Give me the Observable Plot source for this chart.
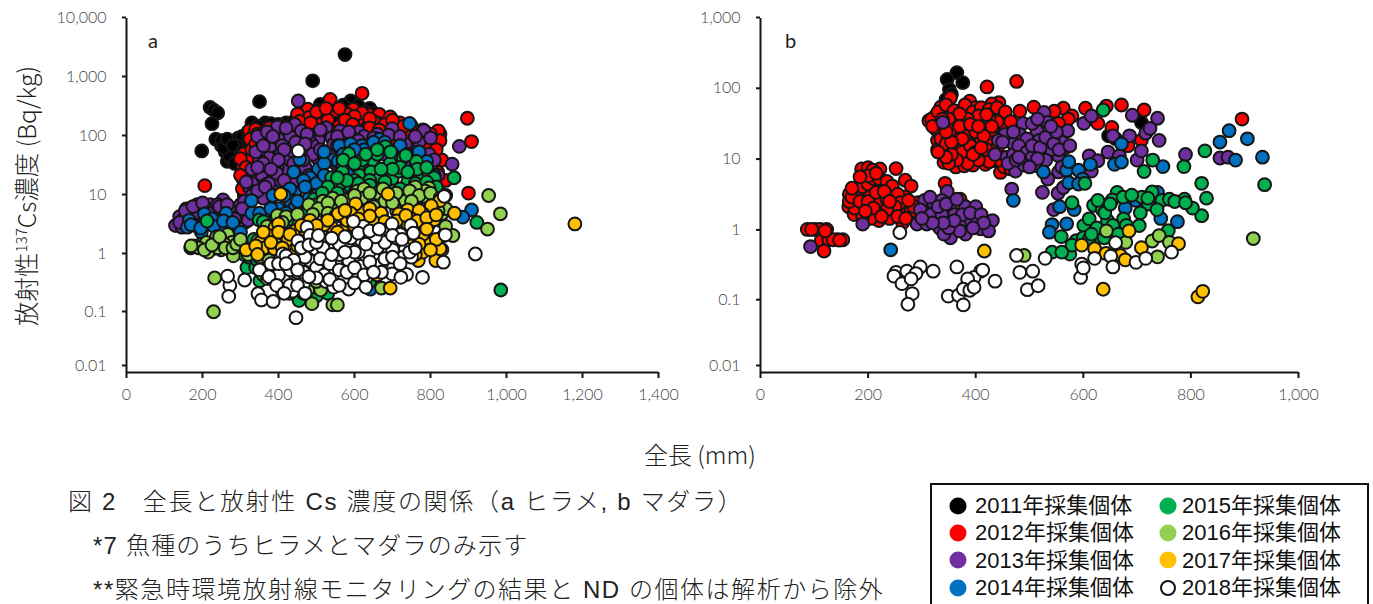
<!DOCTYPE html>
<html><head><meta charset="utf-8">
<script src="https://cdn.jsdelivr.net/npm/d3@7"></script>
<script src="https://cdn.jsdelivr.net/npm/@observablehq/plot@0.6"></script>
<style>
html,body{margin:0;padding:0;background:#fff;overflow:hidden}
body{width:1373px;height:604px;position:relative;font-family:"Noto Sans CJK JP","Noto Sans",sans-serif;color:#222;font-weight:300}
.abs{position:absolute;white-space:nowrap}
.cap{font-family:"Liberation Sans","Noto Sans CJK JP",sans-serif;font-size:24px;line-height:28px;letter-spacing:1.6px}
#a,#b{position:absolute;top:0}
#a{left:0}#b{left:690px}
#a svg,#b svg{overflow:visible;display:block}
sup{font-size:.62em;line-height:0}
</style></head><body>
<div id="a"></div><div id="b"></div>
<div class="abs" style="left:148px;top:28px;font:20px 'Lato'">a</div>
<div class="abs" style="left:785px;top:28px;font:20px 'Lato'">b</div>
<div class="abs" id="yt" style="left:26px;top:196px;font-size:24.5px;line-height:24px;transform:translate(-50%,-50%) rotate(-90deg)">放射性<sup>137</sup>Cs濃度 (Bq/kg)</div>
<div class="abs" style="left:644px;top:437px;font-size:24px;line-height:34px">全長 (mm)</div>
<div class="abs cap" style="left:68px;top:488px;letter-spacing:1.7px">図 2　全長と放射性 Cs 濃度の関係（a ヒラメ, b マダラ）</div>
<div class="abs cap" style="left:93px;top:532px;letter-spacing:1.2px">*7 魚種のうちヒラメとマダラのみ示す</div>
<div class="abs cap" style="left:93px;top:576px;letter-spacing:1.55px">**緊急時環境放射線モニタリングの結果と ND の個体は解析から除外</div>
<div id="legend" class="abs" style="left:930px;top:483px;width:439px;height:131px;border:2px solid #111;box-sizing:border-box"></div>
<script>
const years = ["2011","2012","2013","2014","2015","2016","2017","2018"];
const colors = ["#000000","#ff0000","#7030a0","#0070c0","#00b050","#92d050","#ffc000","#ffffff"];
const xTicksA = [0,200,400,600,800,1000,1200,1400];
const xTicksB = [0,200,400,600,800,1000];
const yTicksA = [0.01,0.1,1,10,100,1000,10000];
const yTicksB = [0.01,0.1,1,10,100,1000];

// panel a: [total length mm, Bq/kg]
const a2011 = [[575,2450],[490,880],[350,390],[220,310],[230,280],[240,250],[225,165],[198,57],[235,90],[250,70],[260,55],[265,38],[275,60],[285,85],[295,95],[305,100],[250,85],[270,75],[280,45],[290,50],[300,60],[310,70],[330,170],[365,170],[400,160],[430,150],[510,350],[590,400],[640,300],[480,260],[470,230],[520,200],[560,190],[600,170],[650,250],[680,180],[450,130],[420,170],[620,150],[540,270],[460,170],[550,300],[275,40],[290,70],[270,48],[320,90],[300,40],[255,65],[265,90],[280,70],[295,40],[285,35],[305,55],[320,120],[345,150],[380,165],[410,150],[440,180],[500,280],[530,320],[570,340],[610,330],[630,260],[660,200],[700,150]];
const a2012 = [[620,540],[536,426],[477,290],[505,233],[551,272],[572,254],[597,290],[637,238],[665,238],[694,215],[665,166],[897,204],[908,82],[825,110],[820,125],[825,85],[776,87],[745,132],[819,25],[900,11],[206,14.7],[157,5.9],[323,126],[340,132],[363,117],[365,87],[325,90],[351,57],[309,51],[306,32],[323,23],[308,18],[386,69],[317,12],[470,150],[510,160],[580,240],[610,200],[530,190],[600,130],[630,120],[760,120],[720,125],[680,115],[795,80],[760,70],[430,110],[400,100],[370,70],[340,40],[380,45],[350,30],[320,40],[650,180],[700,130],[620,250],[560,150],[480,210],[450,240],[330,16],[310,10],[790,30],[800,50],[830,40],[490,120],[540,120],[840,18],[700,90],[345,110],[375,140],[400,130],[440,140],[500,260],[525,300],[560,300],[600,220],[640,200],[680,160],[720,170],[750,150],[780,130],[800,110],[740,100],[790,60],[815,60],[805,35],[330,60],[300,42],[315,30],[340,75],[360,110],[375,85],[395,120],[415,130],[455,180],[485,170],[515,130],[575,190],[595,160],[640,140],[665,130],[700,190],[730,150],[320,14],[300,22],[305,13],[330,9.5],[320,7]];
const a2013 = [[452,400],[876,68],[857,34],[796,50],[783,126],[747,67],[734,74],[699,136],[611,120],[562,125],[525,141],[540,96],[443,160],[460,125],[397,146],[505,87],[420,85],[254,8.4],[140,4.4],[129,3.1],[186,7],[220,7],[169,4.9],[289,5.9],[317,5.4],[311,3.5],[323,13.8],[272,4.3],[237,4.9],[203,6.3],[294,2.9],[146,2.9],[374,44],[408,54],[420,28],[397,30],[363,28],[340,22],[357,20],[386,20],[403,15.6],[369,15.6],[340,14.7],[351,11],[386,12],[414,11],[443,18],[454,30],[466,50],[500,44],[534,54],[580,74],[545,74],[488,74],[454,65],[430,100],[480,100],[590,100],[640,80],[680,70],[710,60],[770,80],[830,9],[800,30],[760,50],[350,40],[380,70],[400,90],[430,40],[470,30],[510,25],[550,35],[600,50],[650,40],[330,16],[360,9],[330,10],[300,7],[270,6],[250,5],[230,5.5],[210,6],[190,4.5],[170,3.5],[150,4],[310,8],[300,4.4],[260,3],[240,7],[360,35],[410,70],[440,55],[490,50],[345,100],[370,120],[420,140],[475,110],[510,130],[555,100],[585,120],[625,100],[660,110],[690,105],[720,100],[760,100],[800,95],[770,55],[810,40],[820,22],[840,10],[350,60],[330,28],[315,17],[345,12],[375,16],[395,24],[415,18],[440,35],[465,40],[480,22],[510,60],[555,70],[610,85],[650,95],[680,50],[340,55],[360,70],[385,100],[415,60],[445,80],[470,75],[520,50],[565,60],[365,14],[400,40],[380,28],[345,30],[155,5.5],[175,6.5],[200,7.5],[215,5],[245,6.5],[265,7],[285,4],[305,6],[275,3.5],[225,3.5],[180,3.2],[160,3.5],[140,3.5],[320,3.8]];
const a2014 = [[745,166],[665,90],[456,41],[545,40],[557,38],[505,28],[483,20],[511,15.6],[443,11],[431,8.2],[462,7.7],[329,8.2],[908,5.7],[885,4.3],[262,5],[205,4.9],[165,3.8],[160,2.9],[197,2.4],[294,1.9],[272,2.7],[237,3.5],[642,0.26],[648,57],[637,44],[671,65],[591,44],[614,39],[694,34],[740,26],[763,34],[568,30],[545,20],[522,12],[488,12],[466,18],[374,4.3],[397,4.9],[443,6.3],[488,7.2],[620,70],[720,70],[700,50],[780,30],[600,25],[520,35],[480,9],[540,8],[430,13],[185,3],[225,4],[250,2.5],[400,6],[360,4.5],[330,5],[520,55],[560,70],[590,75],[625,60],[650,80],[680,80],[710,40],[740,50],[770,55],[790,38],[810,22],[600,60],[570,50],[500,16],[470,14],[440,25],[520,22],[415,10],[450,8],[500,10],[530,11],[570,14],[385,10],[350,5],[380,6],[420,5],[170,3.2],[210,3.3],[230,3],[255,3.7],[280,2.2],[310,1.6],[280,3.5],[300,2.4],[195,2.8],[730,35],[755,22],[640,28],[680,22]];
const a2015 = [[585,51],[681,67],[647,40],[609,30],[568,25],[540,20],[614,22],[643,25],[694,35],[763,38],[699,19],[665,19],[775,19],[796,23],[740,17],[862,20],[494,8.7],[349,3.85],[212,3.7],[922,3.5],[985,0.25],[317,0.6],[454,0.166],[540,13.8],[568,16.6],[625,13.8],[591,13.8],[671,13.8],[717,26],[660,50],[751,12],[728,44],[785,12],[340,0.6],[323,0.9],[351,0.36],[409,0.25],[720,30],[620,40],[800,15],[370,2],[330,1.3],[310,1],[430,3],[450,3.5],[820,12],[700,12],[600,18],[650,12],[500,0.2],[470,0.3],[345,1.1],[400,0.5],[570,40],[600,35],[630,50],[660,60],[695,55],[735,48],[765,28],[790,30],[810,20],[740,25],[700,28],[670,28],[640,18],[610,16],[580,18],[555,20],[530,14],[515,11],[555,11],[600,11],[640,15],[680,17],[720,13],[760,16],[790,17],[815,14],[500,7],[470,5],[430,4],[400,3],[380,3],[360,3.6],[335,1.8],[320,1.1],[345,0.8],[370,0.5],[430,0.22],[465,0.22],[500,0.28],[530,0.22],[580,0.3],[640,0.35]];
const a2016 = [[796,13.4],[953,10],[984,4.9],[950,2.7],[859,2.1],[671,0.27],[543,0.14],[555,0.14],[488,0.147],[232,0.4],[229,0.107],[397,4.6],[197,1.5],[169,1.3],[180,1.4],[249,1.2],[237,2],[266,2.2],[249,1.7],[226,1.25],[272,1.25],[281,0.95],[215,1.1],[277,1.6],[543,9],[517,8],[608,12],[625,13],[660,11],[734,8.2],[757,8.7],[785,12],[825,3.8],[363,2.4],[340,1.17],[351,0.54],[409,0.32],[511,0.25],[477,0.25],[455,0.32],[570,4.3],[517,5.5],[637,8],[557,6.3],[671,4.9],[711,5.5],[763,6.3],[808,6.3],[808,8],[830,4.9],[420,4.4],[454,3.3],[530,2.2],[397,2],[210,1.6],[240,1.3],[258,1.5],[190,1.3],[380,1],[420,0.6],[470,0.4],[500,0.35],[440,2],[590,9],[700,10],[760,14],[620,9],[680,8],[730,5],[790,9],[480,7],[505,6],[530,7.5],[565,8],[600,10],[640,11],[675,13],[710,11],[745,12],[770,10],[800,11],[825,9],[840,6],[815,5],[790,6],[750,8],[700,7.5],[650,6.5],[610,6],[575,5.5],[530,5],[490,4.8],[450,4.8],[410,3.5],[370,3],[345,1.7],[320,1],[350,0.9],[375,0.8],[360,0.45],[395,0.4],[420,0.4],[450,0.5],[480,0.55],[510,0.4],[540,0.3],[570,0.5],[430,0.75],[170,1.4],[205,1.2],[225,1.45],[245,2],[260,1.3],[280,1.3],[290,1.5],[300,1.8],[830,1.2],[840,3],[820,5.5]];
const a2017 = [[1180,3.3],[406,10.6],[688,10.6],[863,5],[825,8.2],[802,6.7],[780,4.9],[796,3.3],[796,1.77],[825,1.25],[768,0.79],[814,0.79],[780,1.1],[740,5.7],[551,4.6],[620,5.2],[603,7.2],[660,3.6],[717,4.9],[391,2.9],[414,2.2],[374,2.1],[351,1.6],[363,1.3],[389,1.25],[315,1.2],[443,2.5],[483,3.8],[511,2.4],[540,2.9],[568,2.5],[420,1.3],[580,3.8],[614,3.5],[648,2.9],[740,3.3],[762,2.2],[694,0.27],[648,0.5],[557,4.9],[590,5],[640,6],[700,3],[730,2],[760,1],[835,2.1],[810,3.9],[770,5.6],[500,2],[470,1.6],[440,1],[530,1.7],[360,2.4],[400,3.3],[600,3],[670,5],[750,4],[380,1.6],[400,2.4],[425,1.8],[450,1.4],[470,2.6],[490,2.4],[520,3.2],[555,2.4],[585,2],[620,2.2],[650,3.6],[680,3.6],[710,3.7],[735,4.6],[765,3.7],[790,4.2],[815,4.7],[640,4.5],[610,4],[575,5.6],[530,3.8],[500,3.1],[460,3.1],[430,2.2],[340,1.4],[345,1],[410,1.3],[470,1.2],[780,2.2],[815,1.8],[800,1.2],[790,2.7],[770,1.5],[750,1.4],[730,1.2],[660,0.45],[620,0.55]];
const a2018 = [[452,57],[836,9.7],[839,2.15],[918,1.02],[834,0.74],[779,0.41],[748,3.1],[688,2.7],[623,3],[597,3.65],[699,3.3],[475,2.9],[483,2.1],[451,1.7],[497,1.25],[411,1.02],[380,0.7],[545,1.4],[582,1.4],[616,1.8],[665,1.6],[713,1.55],[734,1.25],[665,0.93],[637,1.05],[585,0.79],[551,0.7],[517,0.58],[483,0.79],[466,0.5],[443,0.6],[414,0.37],[371,0.39],[311,0.37],[272,0.3],[266,0.43],[269,0.195],[346,0.216],[355,0.17],[386,0.16],[437,0.24],[446,0.085],[466,0.32],[525,0.35],[585,0.26],[545,0.28],[574,0.41],[616,0.63],[631,0.41],[671,0.7],[699,0.47],[737,0.46],[722,0.41],[728,0.9],[700,1.2],[671,0.5],[602,0.41],[530,0.9],[517,1.3],[560,1],[640,0.75],[610,1.1],[560,1.5],[500,0.6],[470,0.9],[430,0.55],[400,0.45],[640,1.7],[720,2.2],[750,0.9],[660,1.3],[590,1.9],[520,0.45],[430,0.3],[350,0.55],[400,0.7],[420,0.95],[440,0.8],[460,1.3],[480,1.45],[510,0.85],[535,0.7],[560,0.55],[580,0.5],[600,0.6],[625,0.45],[650,0.5],[680,0.85],[700,0.9],[720,0.7],[745,1.1],[760,1.3],[680,1.6],[655,2],[630,1.5],[600,1.1],[575,1.1],[540,1],[500,1.6],[505,2.1],[540,1.9],[575,2],[610,2.3],[640,2.5],[665,2.7],[700,2.1],[725,1.8],[755,2.3],[375,0.42],[395,0.3],[415,0.22],[450,0.3],[470,0.22],[500,0.4],[535,0.38],[560,0.3],[600,0.33],[630,0.28],[450,0.55],[420,0.7],[480,0.42]];

// panel b
const b2011 = [[365,172],[347,138],[376,124],[351,100],[345,72],[708,34],[647,22],[355,85],[660,20]];
const b2012 = [[421,108],[476,129],[353,76],[335,56],[389,68],[313,36],[325,42],[443,65],[430,62],[482,49],[508,56],[563,54],[546,49],[604,54],[643,58],[671,60],[713,51],[895,38],[579,42],[572,38],[554,33],[627,33],[653,29],[708,19],[683,16],[567,15],[345,45],[373,50],[418,48],[434,40],[450,42],[361,35],[377,32],[401,35],[329,26],[357,25],[385,28],[409,26],[434,26],[329,19],[353,18],[377,17],[401,17],[426,18],[329,14],[357,13.5],[389,13],[373,10],[341,9.3],[363,8],[379,8.3],[418,8.7],[446,6.7],[453,8],[434,9.8],[395,8.5],[340,23],[365,40],[395,45],[415,30],[350,30],[340,15],[365,20],[395,20],[415,12],[440,15],[455,30],[399,55],[189,7.2],[222,7.5],[252,7.6],[269,5.2],[280,4.3],[188,7.5],[200,7.8],[208,7.2],[184,3],[172,3.7],[165,3.3],[164,2.2],[176,2.7],[206,3.2],[228,3.2],[204,4.1],[180,4.1],[218,4.8],[236,4.1],[269,3],[262,1.7],[220,1.4],[174,1.7],[200,2],[224,2.1],[244,2.4],[248,1.7],[280,1.9],[264,1.3],[293,2.5],[300,2.3],[195,3.5],[215,2.5],[235,2.8],[185,2.2],[210,1.7],[245,3],[225,4.3],[190,5],[240,1.5],[87,1.05],[102,1.05],[111,1.05],[123,1.05],[95,1.05],[113,0.73],[127,0.75],[143,0.75],[153,0.75],[118,0.52],[135,0.75],[147,0.74],[343,4.7],[371,2.8],[120,1],[318,38],[330,48],[345,60],[360,50],[380,60],[395,48],[410,55],[425,52],[440,55],[455,48],[465,35],[450,22],[440,35],[425,38],[405,42],[385,38],[370,45],[350,38],[335,32],[325,28],[335,20],[345,17],[360,15],[375,13],[390,16],[410,20],[420,14],[435,12],[445,10],[425,9.5],[405,10],[385,9],[365,10],[350,9],[355,12],[345,11],[365,28],[380,22],[400,25],[415,22],[430,30],[360,23],[330,13],[400,13],[465,7.5],[180,3.4],[190,4.2],[200,4.6],[210,5.5],[220,5.5],[235,5],[245,4.3],[255,3.3],[260,2.5],[250,2.2],[235,2],[220,1.7],[205,1.5],[190,1.6],[175,2.1],[165,2.6],[170,3],[185,2.6],[200,2.6],[215,3.5],[230,3.6],[240,2.6],[210,2.1],[195,1.9],[225,1.6],[255,1.6],[270,1.5],[285,2.2],[275,2.7],[170,4],[200,6],[215,6.5],[185,5.8],[320,30],[338,38],[352,26],[370,30],[390,32],[405,30],[420,44],[375,20],[395,12],[410,15],[355,18],[345,25]];
const b2013 = [[339,34],[190,1.25],[93,0.6],[347,3.6],[305,2.7],[321,2.5],[337,2.7],[353,2.1],[297,2],[317,1.7],[337,1.7],[361,1.7],[381,2.2],[400,2.2],[386,1.3],[409,1.07],[431,1.4],[424,1],[401,1.55],[291,1.25],[333,1.1],[353,0.8],[381,0.9],[341,0.9],[369,1.25],[309,1.25],[454,23],[442,19],[436,12],[488,33],[482,23],[470,17],[458,11],[474,7],[486,9.8],[485,13],[514,26],[527,47],[534,34],[518,19],[521,12],[514,8.3],[534,17],[561,18],[554,11.5],[554,6.8],[571,26],[534,5.4],[524,3.5],[553,3.4],[563,4.1],[545,2],[467,3.9],[601,33],[615,42],[655,22],[691,43],[686,22],[738,39],[716,24],[741,19],[646,13],[667,11.5],[700,10],[708,13.5],[611,11.5],[627,9.8],[615,7],[790,12],[854,10.7],[869,11],[724,28],[500,15],[545,22],[495,20],[470,25],[540,14],[315,3],[330,2.2],[345,2.4],[365,2.8],[375,1.7],[390,1.8],[410,1.7],[415,1.3],[395,1.1],[370,1],[350,1.1],[360,1.4],[340,1.3],[320,1.3],[300,1.5],[470,12],[480,16],[495,13],[505,11],[490,8.5],[505,16],[520,15],[530,21],[545,17],[555,14],[505,33],[515,38],[550,25],[540,30],[460,9],[450,18],[475,10],[530,10],[515,10.5],[560,8],[575,16],[480,11],[500,8]];
const b2014 = [[242,0.54],[470,2.7],[556,2.2],[583,2],[542,1.23],[569,1.26],[537,0.96],[526,6.8],[569,7.2],[591,7.2],[573,9.5],[573,4.8],[613,8.7],[599,5.4],[658,8.7],[671,9.4],[671,17],[748,8.1],[698,2.7],[678,2.1],[744,1.5],[775,1.35],[659,1.07],[738,3.5],[854,18],[871,26],[905,20],[883,10],[933,11],[591,4.6]];
const b2015 = [[637,51],[826,13.5],[729,10],[713,6.9],[787,8.1],[820,4.7],[937,4.5],[829,2.9],[820,1.64],[603,4.7],[579,2.5],[619,2.3],[635,2],[627,2.7],[663,3.5],[654,2.75],[674,3],[709,3],[728,3.55],[746,2.7],[760,2.8],[788,2.8],[803,2.1],[721,2.4],[706,1.8],[737,2],[675,1.48],[704,1.19],[645,1.4],[601,1.19],[611,1.48],[758,1.01],[542,0.5],[559,0.83],[575,0.47],[587,0.73],[623,0.78],[639,0.8],[600,0.8],[611,0.76],[579,0.63],[560,0.5],[640,1.8],[650,2.4],[690,3.2],[720,2.9],[770,2.6],[790,2.5],[680,1.2],[625,1.1],[615,0.9],[655,1.2],[665,0.9]];
const b2016 = [[916,0.78],[490,0.45],[643,1],[679,0.69],[728,0.72],[741,0.86],[760,0.69],[738,0.43]];
const b2017 = [[416,0.52],[685,1],[597,0.63],[621,0.56],[642,0.48],[669,0.45],[678,0.39],[708,0.58],[777,0.66],[637,0.15],[813,0.117],[822,0.14]];
const b2018 = [[259,0.95],[476,0.45],[482,0.26],[506,0.27],[496,0.148],[516,0.168],[529,0.41],[597,0.34],[595,0.22],[621,0.41],[651,0.44],[655,0.31],[660,0.68],[698,0.36],[716,0.41],[764,0.5],[252,0.26],[272,0.27],[297,0.31],[321,0.27],[289,0.25],[248,0.23],[263,0.18],[280,0.21],[282,0.13],[274,0.092],[365,0.31],[409,0.27],[397,0.22],[385,0.21],[436,0.195],[349,0.12],[368,0.123],[377,0.09],[377,0.15],[389,0.145],[397,0.16],[413,0.28],[600,0.3]];

const seriesA = [a2011,a2012,a2013,a2014,a2015,a2016,a2017,a2018];
const seriesB = [b2011,b2012,b2013,b2014,b2015,b2016,b2017,b2018];
const ink = "#151515", labelInk = "#454545";

function panel(series, xTicks, yTicks, xMax, opts){
  const rows = series.flatMap((s,i)=>s.map(([len,cs])=>({len,cs,year:years[i]})));
  return Plot.plot({
    width: opts.width, height: 407,
    marginLeft: opts.left, marginRight: opts.right, marginTop: 18, marginBottom: 35,
    style:{background:"transparent",overflow:"visible"},
    x:{domain:[0,xMax],ticks:xTicks},
    y:{type:"log",domain:[yTicks[0],yTicks[yTicks.length-1]]},
    color:{domain:years,range:colors},
    marks:[
      Plot.dot(rows,{x:"len",y:"cs",fill:"year",stroke:ink,strokeWidth:2,r:6.4}),
      Plot.ruleX([0],{stroke:ink,strokeWidth:2}),
      Plot.ruleY([yTicks[0]],{stroke:ink,strokeWidth:2}),
      Plot.axisX({ticks:xTicks,tickSize:6,tickPadding:10,label:null,stroke:ink,strokeWidth:2,color:labelInk,fontSize:16,fontFamily:"Lato",tickFormat:d3.format(",")}),
      ...yTicks.map((t,i)=>Plot.axisY([t],{tickSize:4,tickPadding:16,label:null,stroke:ink,strokeWidth:2,color:labelInk,fontSize:16,fontFamily:"Lato",
        dy: opts.dy(i), tickFormat:d=>d<1?String(d):d3.format(",")(d)}))
    ]
  });
}
document.getElementById("a").append(panel(seriesA,xTicksA,yTicksA,1400,{width:690,left:126,right:32,dy:i=>i===0?-7:i===1?-2:-1}));
document.getElementById("b").append(panel(seriesB,xTicksB,yTicksB,1000,{width:640,left:70,right:32,dy:i=>i===0?-7:i===1?-2:-1}));

const legend = document.getElementById("legend");
years.forEach((y,i)=>{
  const col = Math.floor(i/4), row = i%4;
  const left = col?226:16;
  const top = 7+row*27.4;
  const el = document.createElement("div");
  el.className="abs";
  el.style.cssText=`left:${left}px;top:${top}px;font-family:'Liberation Sans','Noto Sans CJK JP',sans-serif;font-size:22px;line-height:27px;font-weight:400;display:flex;align-items:center;color:#111`;
  const filled = colors[i]!=="#ffffff";
  el.innerHTML=`<svg width="20" height="20" style="margin-right:${col?4:7}px"><circle cx="10" cy="10" r="${filled?8.5:7}" fill="${colors[i]}" ${filled?"":'stroke="#111" stroke-width="2"'}/></svg>${y}年採集個体`;
  legend.append(el);
});
</script>
</body></html>
